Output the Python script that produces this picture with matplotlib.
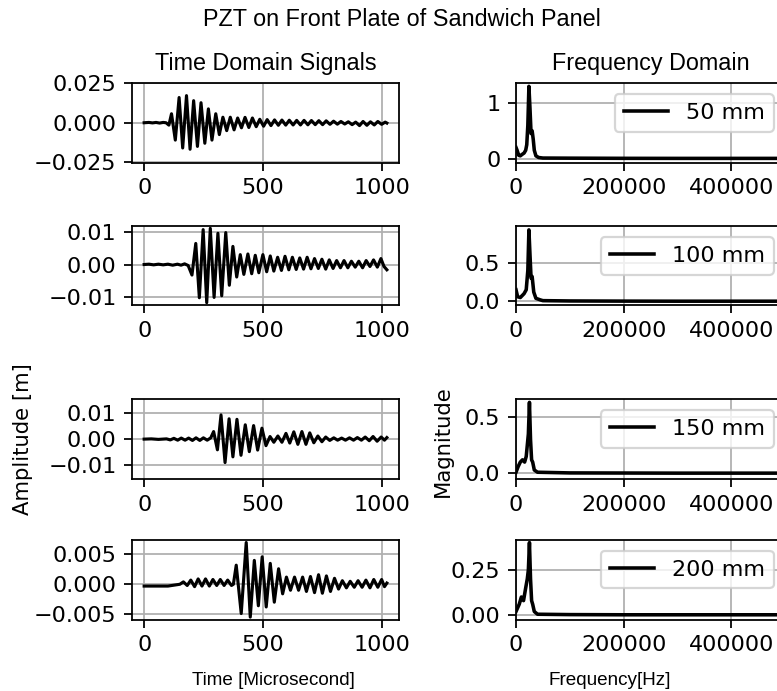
"""Time and frequency domain signals of a PZT on a sandwich panel."""

import matplotlib
matplotlib.use('Agg')
import matplotlib.pyplot as plt

DPI = 160
WIDTH, HEIGHT = 777, 691

distances = ['50 mm', '100 mm', '150 mm', '200 mm']

# time domain signals: peaks and troughs [microsecond], [m]
t_50 = [0, 20, 35, 50, 65, 80, 92, 104, 115, 131, 147, 162, 178, 193, 208,
        224, 239, 255, 270, 285, 301, 316, 331, 347, 362, 378, 393, 409,
        424, 440, 455, 471, 486, 502, 517, 533, 548, 564, 579, 595, 610,
        626, 641, 657, 672, 688, 703, 719, 734, 750, 765, 781, 796, 812,
        827, 843, 858, 874, 889, 905, 920, 936, 951, 967, 982, 998, 1013,
        1020]
u_50 = [0.0, 0.0002, -0.0001, 0.0002, -0.0002, 0.0002, 0.0, -0.0015,
        0.0057, -0.0110, 0.0160, -0.0160, 0.0172, -0.0168, 0.0140, -0.0150,
        0.0127, -0.0130, 0.0088, -0.0110, 0.0057, -0.0075, 0.0035, -0.0050,
        0.0035, -0.0045, 0.0030, -0.0032, 0.0034, -0.0030, 0.0030, -0.0025,
        0.0022, -0.0022, 0.0020, -0.0018, 0.0018, -0.0016, 0.0017, -0.0015,
        0.0016, -0.0014, 0.0015, -0.0014, 0.0015, -0.0013, 0.0014, -0.0012,
        0.0013, -0.0012, 0.0012, -0.0010, 0.0010, -0.0009, 0.0008, -0.0008,
        0.0006, -0.0012, 0.0004, -0.0018, 0.0008, -0.0016, 0.0006, -0.0014,
        0.0008, -0.0010, 0.0004, -0.0002]

t_100 = [0, 20, 40, 60, 80, 100, 120, 140, 155, 170, 185, 201, 217, 232,
         248, 263, 278, 294, 310, 326, 343, 358, 373, 389, 404, 419, 436,
         452, 467, 482, 499, 515, 530, 545, 561, 577, 592, 608, 623, 639,
         654, 670, 685, 701, 716, 732, 747, 763, 778, 794, 809, 825, 840,
         856, 871, 887, 902, 918, 933, 949, 964, 980, 995, 1008, 1020]
u_100 = [0.0, 0.0001, -0.0001, 0.0001, -0.0001, 0.0001, -0.0002, 0.0001,
         -0.0002, 0.0002, -0.0003, -0.0032, 0.0064, -0.0101, 0.0106,
         -0.0116, 0.0110, -0.0100, 0.0095, -0.0095, 0.0097, -0.0063, 0.0055,
         -0.0038, 0.0030, -0.0030, 0.0032, -0.0028, 0.0028, -0.0025, 0.0030,
         -0.0022, 0.0026, -0.0020, 0.0022, -0.0018, 0.0025, -0.0016, 0.0022,
         -0.0015, 0.0020, -0.0014, 0.0022, -0.0013, 0.0018, -0.0012, 0.0016,
         -0.0014, 0.0014, -0.0012, 0.0012, -0.0010, 0.0012, -0.0010, 0.0010,
         -0.0008, 0.0010, -0.0010, 0.0012, -0.0006, 0.0014, -0.0008, 0.0018,
         -0.0006, -0.0016]

t_150 = [0, 30, 60, 94, 110, 125, 141, 156, 172, 187, 203, 218, 234, 249,
         265, 280, 292, 308, 323, 340, 357, 373, 390, 407, 425, 442, 460,
         477, 495, 512, 529, 545, 562, 579, 596, 612, 629, 646, 663, 680,
         696, 713, 730, 747, 763, 780, 797, 813, 830, 846, 863, 880, 896,
         913, 929, 946, 962, 979, 996, 1010, 1020]
u_150 = [0.0, 0.0001, -0.0001, 0.0001, -0.0003, 0.0003, -0.0004, 0.0004,
         -0.0004, 0.0004, -0.0005, 0.0005, -0.0005, 0.0005, -0.0004, 0.0005,
         0.0029, -0.0041, 0.0093, -0.0090, 0.0078, -0.0068, 0.0076, -0.0062,
         0.0055, -0.0048, 0.0052, -0.0042, 0.0042, -0.0025, 0.0010, -0.0012,
         0.0012, -0.0012, 0.0022, -0.0015, 0.0028, -0.0020, 0.0029, -0.0020,
         0.0024, -0.0014, 0.0012, -0.0010, 0.0008, -0.0005, 0.0005, -0.0004,
         0.0004, -0.0004, 0.0005, -0.0004, 0.0006, -0.0004, 0.0008, -0.0006,
         0.0010, -0.0008, 0.0008, -0.0004, 0.0006]

t_200 = [0, 50, 100, 150, 165, 181, 196, 212, 227, 243, 258, 274, 289, 305,
         320, 336, 351, 367, 375, 387, 408, 429, 446, 463, 480, 496, 513,
         530, 547, 565, 582, 598, 615, 632, 649, 666, 682, 699, 716, 733,
         749, 766, 783, 800, 817, 833, 850, 866, 883, 899, 916, 932, 949,
         965, 982, 998, 1010, 1020]
u_200 = [-0.0003, -0.0003, -0.0003, 0.0, 0.0004, -0.0002, 0.0007, -0.0004,
         0.0009, -0.0003, 0.0009, -0.0003, 0.0008, -0.0002, 0.0008, -0.0002,
         0.0007, -0.0002, 0.0, 0.0032, -0.0049, 0.0070, -0.0055, 0.0040,
         -0.0036, 0.0046, -0.0038, 0.0035, -0.0030, 0.0026, -0.0016, 0.0012,
         -0.0010, 0.0012, -0.0010, 0.0012, -0.0012, 0.0013, -0.0014, 0.0016,
         -0.0015, 0.0014, -0.0012, 0.0010, -0.0008, 0.0006, -0.0006, 0.0005,
         -0.0005, 0.0006, -0.0005, 0.0007, -0.0006, 0.0008, -0.0005, 0.0008,
         -0.0004, 0.0002]

# frequency domain: [Hz], magnitude
f_50 = [0, 2000, 5000, 8000, 12000, 15000, 18000, 20000, 22000, 24000,
        26000, 28000, 30000, 32000, 34000, 37000, 42000, 50000, 100000,
        200000, 300000, 400000, 500000]
m_50 = [0.20, 0.15, 0.06, 0.05, 0.08, 0.10, 0.15, 0.25, 0.60, 1.30, 0.90,
        0.45, 0.50, 0.35, 0.15, 0.05, 0.02, 0.01, 0.008, 0.005, 0.004,
        0.004, 0.004]

f_100 = [0, 3000, 8000, 15000, 19000, 22000, 24000, 26000, 28000, 30000,
         33000, 37000, 45000, 50000, 100000, 200000, 300000, 400000, 500000]
m_100 = [0.15, 0.06, 0.05, 0.10, 0.15, 0.40, 0.92, 0.60, 0.30, 0.32, 0.12,
         0.04, 0.02, 0.01, 0.006, 0.004, 0.003, 0.003, 0.003]

f_150 = [0, 4000, 8000, 12000, 16000, 19000, 21000, 23000, 25000, 27000,
         29000, 31000, 34000, 40000, 100000, 200000, 300000, 400000, 500000]
m_150 = [0.01, 0.06, 0.10, 0.12, 0.10, 0.15, 0.25, 0.35, 0.63, 0.30, 0.12,
         0.10, 0.03, 0.01, 0.004, 0.003, 0.002, 0.002, 0.002]

f_200 = [0, 3000, 6000, 10000, 14000, 18000, 21000, 23000, 25000, 27000,
         29000, 31000, 34000, 40000, 100000, 200000, 300000, 400000, 500000]
m_200 = [0.02, 0.04, 0.06, 0.10, 0.08, 0.15, 0.20, 0.25, 0.40, 0.20, 0.08,
         0.06, 0.02, 0.005, 0.003, 0.002, 0.002, 0.002, 0.002]

time_signals = [(t_50, u_50), (t_100, u_100), (t_150, u_150), (t_200, u_200)]
spectra = [(f_50, m_50), (f_100, m_100), (f_150, m_150), (f_200, m_200)]

time_yticks = [[-0.025, 0.0, 0.025], [-0.01, 0.0, 0.01],
               [-0.01, 0.0, 0.01], [-0.005, 0.0, 0.005]]
time_ylims = [(-0.0252, 0.0252), (-0.0123, 0.0117),
              (-0.0153, 0.0154), (-0.0059, 0.0075)]
freq_yticks = [[0, 1], [0.0, 0.5], [0.0, 0.5], [0.0, 0.25]]
freq_ylims = [(-0.07, 1.36), (-0.046, 0.97), (-0.05, 0.66), (-0.024, 0.417)]

# axes boxes in pixels: (top, bottom)
rows_px = [(83, 162.5), (226, 305), (399, 479), (539.5, 619.5)]
left_px = (132, 399)
right_px = (516, 785)

ARIAL = 'Liberation Sans'


def px_box(x_px: tuple, y_px: tuple) -> list:
    """Convert a pixel box to figure fractions."""

    x0, x1 = x_px
    top, bottom = y_px
    return [x0 / WIDTH, 1 - bottom / HEIGHT,
            (x1 - x0) / WIDTH, (bottom - top) / HEIGHT]


fig = plt.figure(figsize=(WIDTH / DPI, HEIGHT / DPI), dpi=DPI)

for i in range(4):
    ax_t = fig.add_axes(px_box(left_px, rows_px[i]))
    ax_f = fig.add_axes(px_box(right_px, rows_px[i]))

    t, u = time_signals[i]
    ax_t.plot(t, u, color='k', lw=1.4)
    ax_t.set_xticks([0, 500, 1000])
    ax_t.set_yticks(time_yticks[i])
    ax_t.set_ylim(*time_ylims[i])
    ax_t.grid(True)

    f, m = spectra[i]
    ax_f.plot(f, m, color='k', lw=1.6, label=distances[i])
    ax_f.set_xlim(0, 500000)
    ax_f.set_xticks([0, 200000, 400000])
    ax_f.set_yticks(freq_yticks[i])
    ax_f.set_ylim(*freq_ylims[i])
    ax_f.grid(True)
    ax_f.legend(loc='upper right')

    if i == 0:
        ax_t.set_title('Time Domain Signals', family=ARIAL, fontsize=10.5)
        ax_f.set_title('Frequency Domain', family=ARIAL, fontsize=10.5)

fig.text(402 / WIDTH, 1 - 20 / HEIGHT, 'PZT on Front Plate of Sandwich Panel',
         ha='center', va='center', family=ARIAL, fontsize=10.5)
fig.text(273 / WIDTH, 1 - 685 / HEIGHT, 'Time [Microsecond]',
         ha='center', va='baseline', family=ARIAL, fontsize=8.5)
fig.text(610 / WIDTH, 1 - 685 / HEIGHT, 'Frequency[Hz]',
         ha='center', va='baseline', family=ARIAL, fontsize=8.5)
fig.text(23 / WIDTH, 1 - 439 / HEIGHT, 'Amplitude [m]', rotation=90,
         ha='center', va='center', fontsize=9.5)
fig.text(443 / WIDTH, 1 - 441 / HEIGHT, 'Magnitude', rotation=90,
         ha='center', va='center', fontsize=9.5)

fig.savefig('out.png', dpi=DPI)
